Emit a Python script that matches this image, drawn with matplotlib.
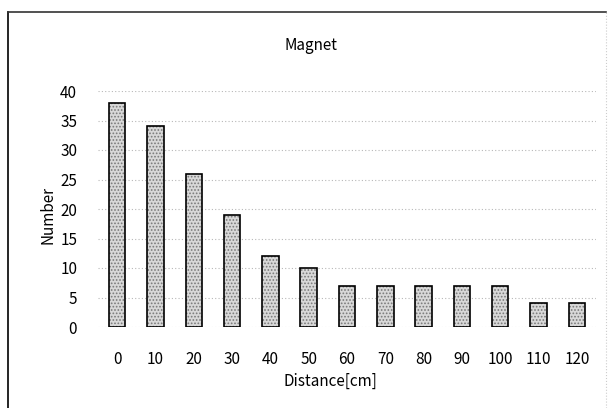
import numpy as np
import matplotlib.pyplot as plt
from matplotlib.lines import Line2D

plt.rcParams['font.family'] = ['Noto Sans CJK JP', 'DejaVu Sans']
plt.rcParams['hatch.linewidth'] = 0.8

distance = ['0', '10', '20', '30', '40', '50', '60', '70', '80', '90', '100', '110', '120']
number = [38, 34, 26, 19, 12, 10, 7, 7, 7, 7, 7, 4, 4]

W, H = 612, 408
fig = plt.figure(figsize=(6.12, 4.08), dpi=100)
ax = fig.add_axes([98/W, 1 - 327/H, (596 - 98)/W, (327 - 91)/H])

x = np.arange(len(distance))
# stippled fill, then black outline on top
ax.bar(x, number, width=0.43, color='#d8d8d8', edgecolor='#7a7a7a',
       linewidth=0, hatch='.....', zorder=2)
ax.bar(x, number, width=0.43, fill=False, edgecolor='black',
       linewidth=1.2, zorder=3)

ax.set_xlim(-0.5, len(distance) - 0.5)
ax.set_ylim(0, 40)
ax.set_yticks(range(0, 41, 5))
ax.set_xticks(x)
ax.set_xticklabels(distance)
ax.yaxis.grid(True, color='#b8b8b8', linestyle=(0, (1, 2)), linewidth=0.8)
ax.set_axisbelow(True)
for s in ax.spines.values():
    s.set_visible(False)
ax.tick_params(length=0, labelsize=11, colors='black')
ax.tick_params(axis='x', pad=17)
ax.tick_params(axis='y', pad=15)

fig.text(330/W, 1 - 381/H, 'Distance[cm]', ha='center', va='center', fontsize=11)
fig.text(48/W, 1 - 215/H, 'Number', ha='center', va='center', rotation=90, fontsize=11)
fig.text(311/W, 1 - 45/H, 'Magnet', ha='center', va='center', fontsize=11)

# chart area border (scanned frame)
fig.add_artist(Line2D([8/W, 8/W], [0, 1 - 12/H], color='black', lw=1.2))
fig.add_artist(Line2D([8/W, 606/W], [1 - 12/H, 1 - 12/H], color='#333333', lw=1.2))
fig.add_artist(Line2D([606/W, 606/W], [0, 1 - 12/H], color='#cccccc', lw=0.8, ls=':'))

fig.savefig('out.png', dpi=100)
